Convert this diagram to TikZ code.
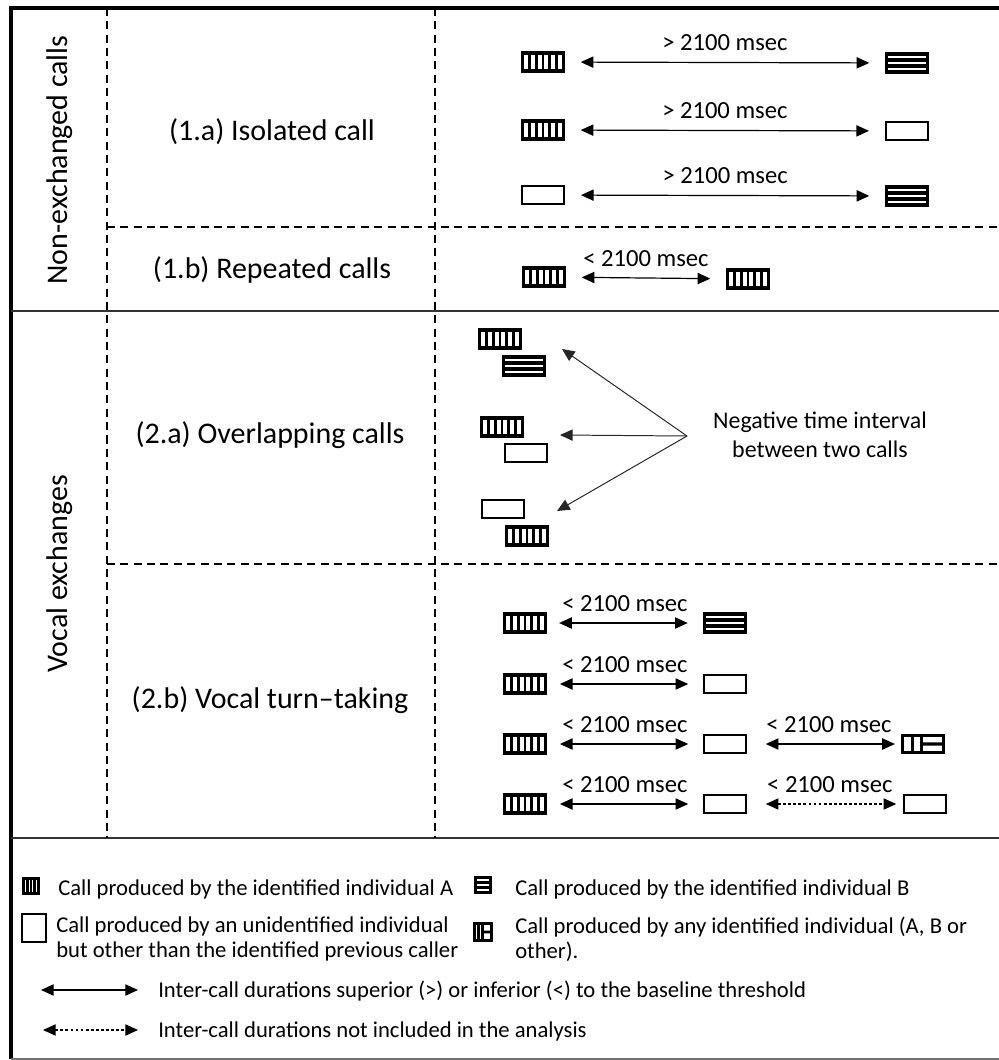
\documentclass[tikz,border=0pt]{standalone}
\usepackage{fontspec}
\setmainfont{Carlito}
\usetikzlibrary{arrows.meta,calc}

\tikzset{
  icon/.style={draw, inner sep=0pt, outer sep=0pt, minimum width=1.025cm, minimum height=0.45cm},
  vbars/.style 2 args={path picture={
    \foreach \k in {1,...,#1}
      \draw[line width=#2] ($(path picture bounding box.south west)!{\k/(#1+1)}!(path picture bounding box.south east)$)
        -- ($(path picture bounding box.north west)!{\k/(#1+1)}!(path picture bounding box.north east)$);}},
  hbars/.style 2 args={path picture={
    \foreach \k in {1,...,#1}
      \draw[line width=#2] ($(path picture bounding box.south west)!{\k/(#1+1)}!(path picture bounding box.north west)$)
        -- ($(path picture bounding box.south east)!{\k/(#1+1)}!(path picture bounding box.north east)$);}},
  abbars/.style={path picture={
    \draw[line width=#1] ($(path picture bounding box.south west)!0.24!(path picture bounding box.south east)$)
      -- ($(path picture bounding box.north west)!0.24!(path picture bounding box.north east)$);
    \draw[line width=#1] ($(path picture bounding box.south west)!0.47!(path picture bounding box.south east)$)
      -- ($(path picture bounding box.north west)!0.47!(path picture bounding box.north east)$);
    \draw[line width=#1] ($(path picture bounding box.west)!0.47!(path picture bounding box.east)$)
      -- (path picture bounding box.east);}},
  callA/.style={icon, line width=2.2pt, vbars={5}{2.1pt}},
  callB/.style={icon, line width=2.2pt, hbars={2}{2.4pt}},
  callN/.style={icon, line width=1.5pt, minimum width=1.04cm, minimum height=0.47cm},
  callAB/.style={icon, line width=2.2pt, minimum height=0.42cm, abbars=2.2pt},
  legA/.style={icon, line width=1.9pt, minimum width=0.38cm, minimum height=0.38cm, vbars={3}{1.9pt}},
  legB/.style={icon, line width=1.9pt, minimum width=0.38cm, minimum height=0.36cm, hbars={2}{2pt}},
  legN/.style={icon, line width=1.4pt, minimum width=0.62cm, minimum height=0.7cm},
  legAB/.style={icon, line width=1.9pt, minimum width=0.42cm, minimum height=0.42cm, abbars=1.9pt},
  sect/.style={font=\fontsize{21.3}{25}\selectfont},
  dlbl/.style={font=\fontsize{17.5}{20}\selectfont, anchor=base, yshift=0.29cm, inner sep=0pt},
  negt/.style={font=\fontsize{17}{20.6}\selectfont, align=center},
  legt/.style={font=\fontsize{16.1}{17.8}\selectfont, anchor=base west, inner sep=0pt},
  legt2/.style={font=\fontsize{16.1}{17.8}\selectfont, anchor=west, inner sep=0pt, align=left},
  dur/.style={line width=0.85pt, {Triangle[length=9pt,width=8pt]}-{Triangle[length=9pt,width=8pt]},
    shorten <=0.43cm, shorten >=0.43cm},
  durx/.style={dur, dash pattern=on 2pt off 1.6pt},
  negarr/.style={line width=0.7pt, black!85, -{Triangle[length=9pt,width=8pt]}},
  celldash/.style={line width=1.3pt, dash pattern=on 5.7pt off 3.8pt}
}

\begin{document}
\begin{tikzpicture}[x=0.025cm, y=-0.025cm]
\useasboundingbox (0,0) rectangle (999,1060);

% frame and cells
\draw[line width=2.2pt] (11,1059) -- (11,8) -- (999,8);
\draw[line width=1.3pt, black!55] (11,1059) -- (999,1059);
\draw[line width=1.1pt, black!80] (11,311) -- (999,311);
\draw[line width=1.1pt, black!80] (11,838) -- (999,838);
\draw[celldash] (107,8) -- (107,838);
\draw[celldash] (435,8) -- (435,838);
\draw[celldash] (107,227) -- (999,227);
\draw[celldash] (107,564) -- (999,564);

% row and column titles
\node[sect, rotate=90] (nonex) at (60,160) {Non-exchanged calls};
\node[sect, rotate=90] (vocex) at (60,574) {Vocal exchanges};
\node[sect] (isol) at (272,132) {(1.a) Isolated call};
\node[sect] (rept) at (272,270) {(1.b) Repeated calls};
\node[sect] (ovlp) at (270,435) {(2.a) Overlapping calls};
\node[sect] (turn) at (270,700) {(2.b) Vocal turn--taking};

% (1.a)
\node[callA] (iso1a) at (543,62) {};
\node[callB] (iso1b) at (907,63) {};
\draw[dur] (iso1a) -- node[dlbl] {> 2100 msec} (iso1b);
\node[callA] (iso2a) at (543,130) {};
\node[callN] (iso2b) at (907,131) {};
\draw[dur] (iso2a) -- node[dlbl] {> 2100 msec} (iso2b);
\node[callN] (iso3a) at (543,195) {};
\node[callB] (iso3b) at (907,196) {};
\draw[dur] (iso3a) -- node[dlbl] {> 2100 msec} (iso3b);

% (1.b)
\node[callA] (rep1) at (544,277) {};
\node[callA] (rep2) at (748,279) {};
\draw[dur] (rep1) -- node[dlbl] {< 2100 msec} (rep2);

% (2.a)
\node[callA] (ov1a) at (500,339) {};
\node[callB] (ov1b) at (524,366) {};
\node[callA] (ov2a) at (502,427) {};
\node[callN] (ov2b) at (526,453) {};
\node[callN] (ov3a) at (503,509) {};
\node[callA] (ov3b) at (527,536) {};
\node[negt] (neg) at (820,435) {Negative time interval\\between two calls};
\coordinate (apex) at (687,436);
\coordinate (tip1) at (562,349);
\coordinate (tip2) at (560,435);
\coordinate (tip3) at (557,511);
\foreach \t in {tip1,tip2,tip3}
  \draw[negarr] (apex) -- (\t);

% (2.b)
\node[callA] (tt1a) at (525,623) {};
\node[callB] (tt1b) at (725,623) {};
\draw[dur, shorten <=0.34cm, shorten >=0.42cm] (tt1a) -- node[dlbl] {< 2100 msec} (tt1b);
\node[callA] (tt2a) at (525,684) {};
\node[callN] (tt2b) at (725,684) {};
\draw[dur, shorten <=0.36cm, shorten >=0.4cm] (tt2a) -- node[dlbl] {< 2100 msec} (tt2b);
\node[callA] (tt3a) at (525,744) {};
\node[callN] (tt3b) at (725,744) {};
\node[callAB] (tt3c) at (923,744) {};
\draw[dur, shorten <=0.36cm, shorten >=0.4cm] (tt3a) -- node[dlbl] {< 2100 msec} (tt3b);
\draw[dur, shorten <=0.5cm, shorten >=0.19cm] (tt3b) -- node[dlbl, xshift=0.12cm] {< 2100 msec} (tt3c);
\node[callA] (tt4a) at (525,804) {};
\node[callN] (tt4b) at (725,804) {};
\node[callN] (tt4c) at (925,804) {};
\draw[dur, shorten <=0.36cm, shorten >=0.4cm] (tt4a) -- node[dlbl] {< 2100 msec} (tt4b);
\draw[durx, shorten <=0.5cm, shorten >=0.2cm] (tt4b) -- node[dlbl, xshift=0.12cm] {< 2100 msec} (tt4c);

% legend
\node[legA] (keyA) at (31,886) {};
\node[legt] (keyAt) at (58,895) {Call produced by the identified individual A};
\node[legB] (keyB) at (483,885) {};
\node[legt] (keyBt) at (515,895) {Call produced by the identified individual B};
\node[legN] (keyN) at (34,928) {};
\node[legt2] (keyNt) at (56,939) {Call produced by an unidentified individual\\but other than the identified previous caller};
\node[legAB] (keyAB) at (483,932) {};
\node[legt2] (keyABt) at (515,939) {Call produced by any identified individual (A, B or\\other).};
\coordinate (keyS1) at (41,990);
\coordinate (keyS2) at (138,990);
\draw[dur, shorten <=0pt, shorten >=0pt] (keyS1) -- (keyS2);
\node[legt] (keySt) at (158,997) {Inter-call durations superior (>) or inferior (<) to the baseline threshold};
\coordinate (keyX1) at (43,1030);
\coordinate (keyX2) at (138,1030);
\draw[durx, shorten <=0pt, shorten >=0pt] (keyX1) -- (keyX2);
\node[legt] (keyXt) at (158,1037) {Inter-call durations not included in the analysis};
\end{tikzpicture}
\end{document}
